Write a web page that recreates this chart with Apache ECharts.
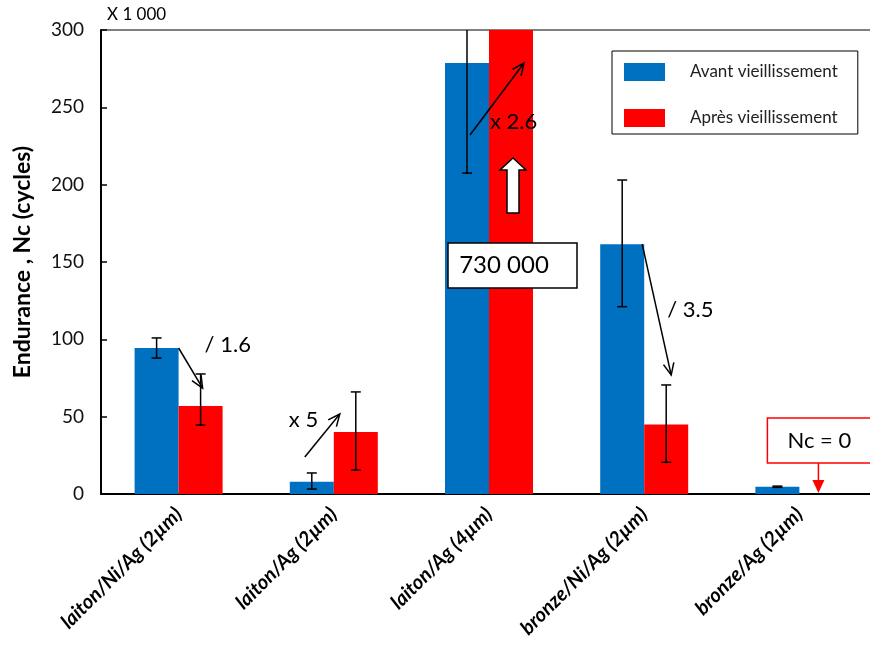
<!DOCTYPE html>
<html>
<head>
<meta charset="utf-8">
<script src="https://cdn.jsdelivr.net/npm/echarts@6/dist/echarts.min.js"></script>
<style>
  html, body { margin: 0; padding: 0; background: #fff; }
  #main { width: 870px; height: 649px; }
</style>
</head>
<body>
<div id="main"></div>
<script>
// données (x 1000 cycles)
var categories = ['laiton/Ni/Ag (2µm)', 'laiton/Ag (2µm)', 'laiton/Ag (4µm)', 'bronze/Ni/Ag (2µm)', 'bronze/Ag (2µm)'];
var avant = [94.4, 8.0, 278.7, 161.4, 4.7];
var avantLow = [87.9, 3.2, 207.5, 121.1, 4.3];
var avantHigh = [100.9, 13.6, 350, 203, 5.1];
var apres = [56.9, 40.1, 730, 45.0, 0];
var apresLow = [44.6, 15.5, null, 20.5, null];
var apresHigh = [77.6, 66.0, null, 70.5, null];
var yTicks = [0, 50, 100, 150, 200, 250, 300];

var FONT = 'Lato, "Open Sans", sans-serif';
var BAR_W = 44;
var Y_MAX = yTicks[yTicks.length - 1];

function errData(low, high) {
    var list = [];
    for (var i = 0; i < low.length; i++) {
        if (low[i] != null) list.push([i, low[i], high[i]]);
    }
    return list;
}

function errRender(offset) {
    return function(params, api) {
        var x = api.coord([api.value(0), 0])[0] + offset;
        var hi = api.value(2);
        var yLow = api.coord([api.value(0), api.value(1)])[1];
        var yHigh = api.coord([api.value(0), Math.min(hi, Y_MAX)])[1];
        var st = { stroke: '#000', lineWidth: 1.5 };
        var children = [
            { type: 'line', shape: { x1: x, y1: yHigh, x2: x, y2: yLow }, style: st },
            { type: 'line', shape: { x1: x - 5, y1: yLow, x2: x + 5, y2: yLow }, style: st }
        ];
        if (hi <= Y_MAX) {
            children.push({ type: 'line', shape: { x1: x - 5, y1: yHigh, x2: x + 5, y2: yHigh }, style: st });
        }
        return { type: 'group', children: children };
    };
}

var chart = echarts.init(document.getElementById('main'));

var option = {
    backgroundColor: '#fff',
    animation: false,
    grid: {
        left: 101, top: 30, width: 776, height: 464,
        outerBoundsMode: 'none', containLabel: false,
        show: true, borderColor: '#000', borderWidth: 1, backgroundColor: 'transparent'
    },
    legend: {
        data: ['Avant vieillissement', 'Après vieillissement'],
        orient: 'vertical',
        left: 612, top: 51,
        itemWidth: 41, itemHeight: 18, itemGap: 28,
        padding: [12, 20, 7, 12],
        borderColor: '#000', borderWidth: 1,
        backgroundColor: '#fff',
        icon: 'rect',
        textStyle: { fontFamily: FONT, fontSize: 17, color: '#222', padding: [0, 0, 0, 20] }
    },
    xAxis: {
        type: 'category',
        data: categories,
        axisLine: { lineStyle: { color: '#000', width: 2 } },
        axisTick: { show: false },
        axisLabel: {
            rotate: 45, interval: 0, margin: 17,
            fontFamily: FONT, fontSize: 20, fontWeight: 'bold', fontStyle: 'italic', color: '#000'
        }
    },
    yAxis: {
        type: 'value',
        min: 0, max: Y_MAX, interval: 50,
        name: 'Endurance , Nc (cycles)',
        nameLocation: 'middle',
        nameGap: 67,
        nameTextStyle: { fontFamily: FONT, fontSize: 23, fontWeight: 'bold', color: '#000' },
        axisLine: { show: true, lineStyle: { color: '#000', width: 2 } },
        axisTick: { show: true, inside: true, length: 6, lineStyle: { color: '#000', width: 1.5 } },
        axisLabel: { fontFamily: FONT, fontSize: 19, color: '#111', margin: 17 },
        splitLine: { show: false }
    },
    series: [
        {
            name: 'Avant vieillissement', type: 'bar', data: avant,
            barWidth: BAR_W, barGap: '0%',
            itemStyle: { color: '#0070C0' }
        },
        {
            name: 'Après vieillissement', type: 'bar', data: apres,
            barWidth: BAR_W, barGap: '0%', clip: true,
            itemStyle: { color: '#FF0000' }
        },
        {
            type: 'custom', data: errData(avantLow, avantHigh), z: 5, clip: true,
            renderItem: errRender(-BAR_W / 2), silent: true
        },
        {
            type: 'custom', data: errData(apresLow, apresHigh), z: 5, clip: true,
            renderItem: errRender(BAR_W / 2), silent: true
        }
    ]
};
chart.setOption(option);

// annotations positionnées sur les axes
function pt(cat, val, dx) {
    var p = chart.convertToPixel({ xAxisIndex: 0, yAxisIndex: 0 }, [cat, val]);
    return [p[0] + (dx || 0), p[1]];
}

function arrow(a, b, color, width) {
    var ang = Math.atan2(b[1] - a[1], b[0] - a[0]);
    var L = 13, s = 0.42;
    var h1 = [b[0] - L * Math.cos(ang - s), b[1] - L * Math.sin(ang - s)];
    var h2 = [b[0] - L * Math.cos(ang + s), b[1] - L * Math.sin(ang + s)];
    var st = { stroke: color || '#000', lineWidth: width || 1.5, fill: null };
    return [
        { type: 'line', z: 50, shape: { x1: a[0], y1: a[1], x2: b[0], y2: b[1] }, style: st },
        { type: 'polyline', z: 50, shape: { points: [h1, b, h2] }, style: st }
    ];
}

function label(p, text, size, align) {
    return {
        type: 'text', z: 60, x: p[0], y: p[1],
        style: { text: text, fontFamily: FONT, fontSize: size, fill: '#000', align: align || 'left', verticalAlign: 'middle' }
    };
}

function box(p1, p2, stroke) {
    return {
        type: 'rect', z: 55,
        shape: { x: p1[0], y: p1[1], width: p2[0] - p1[0], height: p2[1] - p1[1] },
        style: { fill: '#fff', stroke: stroke, lineWidth: 1.5 }
    };
}

var g = [];
g.push(label([107, 15], 'X 1 000', 17));

// laiton/Ni/Ag : / 1.6
g = g.concat(arrow(pt(0, 94.4, 0), pt(0, 68.5, 24)));
g.push(label(pt(0, 96.3, 26), '/ 1.6', 22));

// laiton/Ag (2µm) : x 5
g = g.concat(arrow(pt(1, 23.9, -29), pt(1, 51.7, 6)));
g.push(label(pt(1, 47.8, -45), 'x 5', 22));

// laiton/Ag (4µm) : x 2.6
g = g.concat(arrow(pt(2, 232.1, -19), pt(2, 278.7, 35)));
g.push(label(pt(2, 240.5, 1), 'x 2.6', 22));

// flèche blanche
var bt = pt(2, 217.2, 24), hb = pt(2, 209.5, 0)[1], bb = pt(2, 181.7, 0)[1];
g.push({
    type: 'polygon', z: 55,
    shape: { points: [
        [bt[0], bt[1]], [bt[0] + 13, hb], [bt[0] + 6, hb], [bt[0] + 6, bb],
        [bt[0] - 6, bb], [bt[0] - 6, hb], [bt[0] - 13, hb]
    ] },
    style: { fill: '#fff', stroke: '#000', lineWidth: 1.5 }
});

// 730 000
g.push(box(pt(2, 162.3, -41), pt(2, 133.2, 88), '#000'));
g.push(label(pt(2, 147.7, 15), '730 000', 24, 'center'));

// bronze/Ni/Ag : / 3.5
g = g.concat(arrow(pt(3, 161.6, -2), pt(3, 76.9, 27)));
g.push(label(pt(3, 119.0, 23), '/ 3.5', 22));

// bronze/Ag : Nc = 0
g.push(box(pt(4, 49.1, -32), pt(4, 20.0, 80), '#FF0000'));
g.push(label(pt(4, 34.5, 20), 'Nc = 0', 22, 'center'));
var ra = pt(4, 20.0, 19), rb = pt(4, 0, 19);
g.push({ type: 'line', z: 50, shape: { x1: ra[0], y1: ra[1], x2: rb[0], y2: rb[1] - 8 }, style: { stroke: '#FF0000', lineWidth: 1.5 } });
g.push({
    type: 'polygon', z: 50,
    shape: { points: [[rb[0] - 6, rb[1] - 14], [rb[0] + 6, rb[1] - 14], [rb[0], rb[1] - 1]] },
    style: { fill: '#FF0000' }
});

chart.setOption({ graphic: g });
</script>
</body>
</html>
